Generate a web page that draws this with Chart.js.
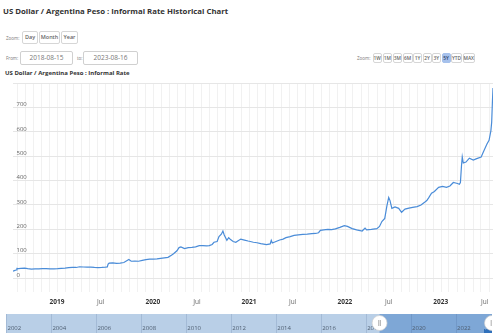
<!DOCTYPE html>
<html><head><meta charset="utf-8">
<script src="https://cdn.jsdelivr.net/npm/chart.js@4/dist/chart.umd.min.js"></script>
<style>
html,body{margin:0;padding:0;width:498px;height:333px;overflow:hidden;background:#fff;font-family:"Open Sans",sans-serif;}
.a{position:absolute;white-space:nowrap;}
.btn{position:absolute;box-sizing:border-box;border:1px solid #d6d6d6;border-radius:2px;background:#fff;color:#666;font-weight:600;text-align:center;}
.inp{position:absolute;box-sizing:border-box;border:1px solid #d0d0d0;border-radius:2px;background:#fff;color:#777;text-align:center;font-size:6.5px;line-height:12px;}
.lbl{position:absolute;color:#777;font-size:4.5px;}
</style></head>
<body>
<div class="a" style="left:3px;top:6px;font-size:7.8px;font-weight:700;color:#333;">US Dollar / Argentina Peso : Informal Rate Historical Chart</div>

<div class="lbl" style="left:6px;top:35px;">Zoom:</div>
<div class="btn" style="left:22px;top:31px;width:16px;height:13px;font-size:5.5px;line-height:11px;">Day</div>
<div class="btn" style="left:39px;top:31px;width:21px;height:13px;font-size:5.5px;line-height:11px;">Month</div>
<div class="btn" style="left:61px;top:31px;width:17px;height:13px;font-size:5.5px;line-height:11px;">Year</div>

<div class="lbl" style="left:6px;top:55px;">From:</div>
<div class="inp" style="left:20px;top:51px;width:53px;height:14px;">2018-08-15</div>
<div class="lbl" style="left:77px;top:55px;">to:</div>
<div class="inp" style="left:83px;top:51px;width:55px;height:14px;">2023-08-16</div>

<div class="lbl" style="left:357px;top:55px;">Zoom:</div>
<div id="zbtns"></div>

<div class="a" style="left:5px;top:69px;font-size:6px;font-weight:700;color:#333;">US Dollar / Argentina Peso : Informal Rate</div>

<canvas id="main" width="498" height="236" style="position:absolute;left:0;top:76px;"></canvas>
<canvas id="nav" width="486" height="40" style="position:absolute;left:6px;top:314px;"></canvas>

<script>
// ---------------- DATA ----------------
const zoomButtons = ["1W","1M","3M","6M","1Y","2Y","3Y","5Y","YTD","MAX"];
const selectedZoom = "5Y";
const rangeFrom = "2018-08-15";
const rangeTo = "2023-08-16";

const dates = [
"2018-08-15","2018-08-20","2018-08-27","2018-08-30","2018-09-05","2018-09-14","2018-09-28","2018-10-10","2018-10-24","2018-11-07","2018-11-21","2018-12-05","2018-12-19",
"2019-01-04","2019-01-18","2019-02-01","2019-02-15","2019-03-01","2019-03-15","2019-03-29","2019-04-12","2019-04-26","2019-05-10","2019-05-24","2019-06-07","2019-06-21","2019-07-05","2019-07-19","2019-08-02","2019-08-09","2019-08-12","2019-08-16","2019-08-30","2019-09-13","2019-09-27","2019-10-11","2019-10-25","2019-10-30","2019-11-08","2019-11-22","2019-12-06","2019-12-20",
"2020-01-03","2020-01-17","2020-01-31","2020-02-14","2020-02-28","2020-03-13","2020-03-27","2020-04-09","2020-04-17","2020-04-30","2020-05-08","2020-05-15","2020-05-29","2020-06-12","2020-06-26","2020-07-10","2020-07-24","2020-08-07","2020-08-21","2020-08-31","2020-09-11","2020-09-18","2020-09-30","2020-10-07","2020-10-16","2020-10-22","2020-10-27","2020-11-06","2020-11-13","2020-11-20","2020-11-30","2020-12-10","2020-12-29",
"2021-01-12","2021-01-26","2021-02-15","2021-03-01","2021-03-15","2021-04-06","2021-04-20","2021-04-24","2021-04-28","2021-05-12","2021-05-26","2021-06-08","2021-06-19","2021-07-05","2021-07-20","2021-08-05","2021-08-22","2021-09-08","2021-09-25","2021-10-10","2021-10-21","2021-10-28","2021-11-10","2021-11-25","2021-12-10","2021-12-24",
"2022-01-10","2022-01-27","2022-02-08","2022-02-26","2022-03-15","2022-04-05","2022-04-16","2022-04-22","2022-05-10","2022-05-31","2022-06-10","2022-06-19","2022-06-30","2022-07-08","2022-07-15","2022-07-20","2022-07-27","2022-08-08","2022-08-22","2022-09-02","2022-09-15","2022-09-30","2022-10-14","2022-10-31","2022-11-15","2022-11-30","2022-12-07","2022-12-14","2022-12-25",
"2023-01-05","2023-01-21","2023-02-05","2023-02-20","2023-03-05","2023-03-18","2023-04-03","2023-04-10","2023-04-14","2023-04-18","2023-04-21","2023-04-25","2023-05-05","2023-05-18","2023-06-02","2023-06-15","2023-07-02","2023-07-09","2023-07-24","2023-08-01","2023-08-08","2023-08-11","2023-08-14","2023-08-16"
];
const rates = [
28,30.5,33,39.5,38.5,39.5,40.5,38.5,37,37.5,38,38.5,38.5,
38,37.5,38.5,40,41,42.5,44,43.5,46.5,45.5,45,44.5,43.5,43,43.5,45,46,57,61,62,60,61,64,73,76,69,70,69,72.5,
76,78,78,79,81,83,85,94,100,112,125,128,121,125,126,128,133,133,132,133,138,147,150,170,180,193,177,155,166,158,150,147,160,
156,152,147,145,141,137,140,155,144,150,156,160,166,170,175,177,179,180,182,183,186,196,198,200,199,202,
208,215,212,203,198,193,205,198,200,203,212,232,245,295,331,318,286,292,286,270,283,287,290,293,300,312,318,329,348,
355,372,376,372,378,392,388,385,392,460,497,472,476,492,484,490,497,514,550,565,605,640,730,780
];

// earlier history shown only in the navigator
const navEarlyDates = ["2002-01-01","2002-02-01","2002-06-25","2002-12-31","2003-06-30","2003-12-31","2004-06-30","2004-12-31","2005-06-30","2005-12-31","2006-06-30","2006-12-31","2007-06-30","2007-12-31","2008-06-30","2008-12-31","2009-06-30","2009-12-31","2010-06-30","2010-12-31","2011-06-30","2011-12-31","2012-06-30","2012-12-31","2013-06-30","2013-12-31","2014-06-30","2014-12-31","2015-06-30","2015-12-31","2016-06-30","2016-12-31","2017-06-30","2017-12-31","2018-06-30","2018-08-01"];
const navEarlyRates = [1.0,2.0,3.9,3.4,2.85,2.95,2.98,2.97,2.9,3.05,3.08,3.07,3.1,3.16,3.05,3.5,3.85,3.85,3.95,4.0,4.2,4.7,6.0,6.8,8.5,10.0,12.0,13.5,12.8,14.3,14.6,16.2,16.8,19.0,29,29.5];

const yTicks = [0,100,200,300,400,500,600,700,800];
const navYearTicks = [2002,2004,2006,2008,2010,2012,2014,2016,2018,2020,2022];

// ---------------- UI buttons ----------------
const btnLefts = [372.5,382.5,392.5,402.5,413,422.5,432,441.5,451,462.5];
const btnWidths = [9.5,9.5,9.5,10,9,9,8.5,9,11,12];
const zb = document.getElementById('zbtns');
zoomButtons.forEach((t,i)=>{
  const d=document.createElement('div');
  d.className='btn';
  d.textContent=t;
  d.style.cssText=`left:${btnLefts[i]}px;top:53px;width:${btnWidths[i]}px;height:10px;font-size:4.8px;line-height:8px;`+
    (t===selectedZoom?'background:#a6c1ec;border-color:#a6c1ec;color:#2a3f66;':'');
  zb.appendChild(d);
});

// ---------------- main chart ----------------
const T = s => Date.parse(s);
const pts = dates.map((d,i)=>({x:T(d),y:rates[i]}));
const monthTicks = [];
for (let y=2018;y<=2023;y++) for (let m=0;m<12;m++){
  const v=Date.UTC(y,m,1);
  if (v>=T(rangeFrom) && v<=T(rangeTo)) monthTicks.push(v);
}

new Chart(document.getElementById('main'),{
  type:'line',
  data:{datasets:[{data:pts,borderColor:'#4a8cd8',borderWidth:1.2,pointRadius:0,tension:0,fill:false}]},
  options:{
    responsive:false,animation:false,devicePixelRatio:1,
    layout:{padding:{left:6,right:5,top:3,bottom:0}},
    plugins:{legend:{display:false},tooltip:{enabled:false}},
    scales:{
      x:{type:'linear',min:T(rangeFrom),max:T(rangeTo),
        afterBuildTicks:s=>{s.ticks=monthTicks.map(v=>({value:v}));},
        grid:{color:'#f1f1f1',drawTicks:false,lineWidth:1},
        border:{display:false},
        ticks:{autoSkip:false,maxRotation:0,align:'start',padding:6,
          callback:v=>{const d=new Date(v);const m=d.getUTCMonth();return m===0?String(d.getUTCFullYear()):(m===6?'Jul':'');},
          color:c=>{const m=new Date(c.tick.value).getUTCMonth();return m===0?'#333':'#666';},
          font:c=>{const m=c.tick?new Date(c.tick.value).getUTCMonth():1;return {family:'"Open Sans"',size:6.5,weight:m===0?'bold':'normal',lineHeight:1.2};}
        }},
      y:{type:'linear',min:-58,max:800,position:'left',
        afterBuildTicks:s=>{s.ticks=yTicks.map(v=>({value:v}));},
        grid:{color:'#e6e6e6',drawTicks:false},
        border:{display:false},
        ticks:{mirror:true,padding:3.5,labelOffset:-3,color:'#666',
          font:{family:'"Open Sans"',size:6},
          callback:v=>v===800?'':String(v)}
      }
    }
  }
});

// ---------------- navigator ----------------
const navPts = navEarlyDates.map((d,i)=>({x:T(d),y:navEarlyRates[i]})).concat(pts);
const navPlugin = {
  id:'navDecor',
  beforeDatasetsDraw(ch){
    const {ctx,chartArea:a,scales:{x}}=ch;
    ctx.save();
    ctx.fillStyle='#b9cfe7';
    ctx.fillRect(a.left,a.top,a.right-a.left,a.bottom-a.top);
    const x1=x.getPixelForValue(T(rangeFrom)), x2=x.getPixelForValue(T(rangeTo));
    ctx.fillStyle='#7ea7d6';
    ctx.fillRect(x1,a.top,x2-x1,a.bottom-a.top);
    ctx.strokeStyle='rgba(40,70,120,0.15)';ctx.lineWidth=1;
    navYearTicks.forEach(yr=>{const px=Math.round(x.getPixelForValue(Date.UTC(yr,0,1)))+0.5;
      ctx.beginPath();ctx.moveTo(px,a.top);ctx.lineTo(px,a.bottom);ctx.stroke();});
    ctx.restore();
  },
  afterDatasetsDraw(ch){
    const {ctx,chartArea:a,scales:{x}}=ch;
    ctx.save();
    ctx.font='6px "Open Sans"';ctx.fillStyle='#4d5d70';ctx.textBaseline='middle';ctx.textAlign='left';
    navYearTicks.forEach(yr=>{const px=x.getPixelForValue(Date.UTC(yr,0,1));ctx.fillText(String(yr),px+1.5,14);});
    [T(rangeFrom),T(rangeTo)].forEach(v=>{
      const px=x.getPixelForValue(v);
      ctx.beginPath();ctx.arc(px,9,7.5,0,Math.PI*2);ctx.fillStyle='#fff';ctx.fill();
      ctx.strokeStyle='#cfcfcf';ctx.lineWidth=0.7;ctx.stroke();
      ctx.strokeStyle='#999';ctx.lineWidth=0.8;
      ctx.beginPath();ctx.moveTo(px-0.8,6);ctx.lineTo(px-0.8,12);ctx.moveTo(px+0.8,6);ctx.lineTo(px+0.8,12);ctx.stroke();
    });
    ctx.restore();
  }
};
new Chart(document.getElementById('nav'),{
  type:'line',
  data:{datasets:[{data:navPts,borderColor:'#2c6cb6',borderWidth:1,backgroundColor:'#2f70bb',fill:'origin',pointRadius:0,tension:0}]},
  options:{
    responsive:false,animation:false,devicePixelRatio:1,
    layout:{padding:0},
    plugins:{legend:{display:false},tooltip:{enabled:false}},
    scales:{
      x:{type:'linear',display:false,min:Date.UTC(2002,0,1),max:T(rangeTo)},
      y:{type:'linear',display:false,min:0,max:800}
    }
  },
  plugins:[navPlugin]
});
</script>
</body></html>
